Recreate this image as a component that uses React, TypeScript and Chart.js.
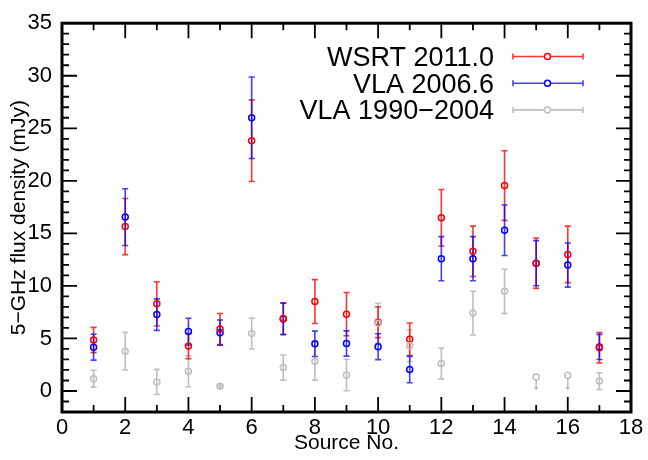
import React, { useEffect, useRef } from "react";
import { Chart, registerables } from "chart.js";

Chart.register(...registerables);

const sources = [1, 2, 3, 4, 5, 6, 7, 8, 9, 10, 11, 12, 13, 14, 15, 16, 17];
const wsrt = [4.85, 15.65, 8.29, 4.27, 5.89, 23.82, 6.9, 8.51, 7.31, 6.55, 4.92, 16.49, 13.29, 19.55, 12.16, 13.0, 4.12];
const wsrtErr = [1.2, 2.67, 2.1, 1.2, 1.48, 3.88, 1.5, 2.09, 2.06, 1.47, 1.55, 2.69, 2.4, 3.31, 2.4, 2.69, 1.45];
const vla = [4.17, 16.55, 7.27, 5.65, 5.55, 26.0, 6.85, 4.49, 4.52, 4.21, 2.04, 12.59, 12.59, 15.3, 12.16, 11.98, 4.19];
const vlaErr = [1.23, 2.7, 1.5, 1.27, 1.2, 3.88, 1.5, 1.21, 1.2, 1.23, 1.25, 2.1, 2.1, 2.4, 2.15, 2.1, 1.2];
const old = [1.17, 3.78, 0.86, 1.87, 0.44, 5.46, 2.23, 2.83, 1.52, 6.45, 4.3, 2.62, 7.41, 9.49, 1.33, 1.49, 0.94];
const oldErr = [0.8, 1.8, 1.2, 1.47, 0.12, 1.47, 1.2, 1.8, 1.5, 1.9, 1.5, 1.47, 2.08, 2.1, 0, 0, 0.8];
const oldUpperLimit = [false, false, false, false, false, false, false, false, false, false, false, false, false, false, true, true, false];
const seriesLabels = ["WSRT 2011.0", "VLA 2006.6", "VLA 1990\u22122004"];
const xTickValues = [0, 2, 4, 6, 8, 10, 12, 14, 16, 18];
const yTickValues = [0, 5, 10, 15, 20, 25, 30, 35];
const xTitle = "Source No.";
const yTitle = "5\u2212GHz flux density (mJy)";

const RED = "rgb(255,0,0)";
const BLUE = "rgb(0,0,255)";
const GRAY = "rgb(190,190,190)";
const RED_A = "rgba(255,0,0,0.8)";
const BLUE_A = "rgba(0,0,255,0.75)";
const GRAY_A = "rgba(170,170,170,0.75)";
const FONT = "'Liberation Sans', Arial, Helvetica, sans-serif";

export default function App() {
  const ref = useRef<HTMLCanvasElement | null>(null);

  useEffect(() => {
    document.body.style.margin = "0";
    const canvas = ref.current;
    if (!canvas) return;

    const errSets = [
      { vals: old, errs: oldErr, color: GRAY_A, ul: oldUpperLimit },
      { vals: wsrt, errs: wsrtErr, color: RED_A, ul: null as boolean[] | null },
      { vals: vla, errs: vlaErr, color: BLUE_A, ul: null as boolean[] | null },
    ];

    const errorBarPlugin = {
      id: "errbars",
      beforeDatasetsDraw(chart: any) {
        const ctx = chart.ctx;
        const xs = chart.scales.x;
        const ys = chart.scales.y;
        ctx.save();
        ctx.lineWidth = 1.6;
        for (const s of errSets) {
          ctx.strokeStyle = s.color;
          ctx.fillStyle = s.color;
          sources.forEach((src, i) => {
            const px = xs.getPixelForValue(src);
            if (s.ul && s.ul[i]) {
              const y0 = ys.getPixelForValue(s.vals[i]) + 3;
              const y1 = ys.getPixelForValue(0);
              ctx.beginPath();
              ctx.moveTo(px, y0);
              ctx.lineTo(px, y1 - 3);
              ctx.stroke();
              ctx.beginPath();
              ctx.moveTo(px - 2, y1 - 4);
              ctx.lineTo(px + 2, y1 - 4);
              ctx.lineTo(px, y1);
              ctx.closePath();
              ctx.fill();
              return;
            }
            const e = s.errs[i];
            if (!e) return;
            const top = ys.getPixelForValue(s.vals[i] + e);
            const bot = ys.getPixelForValue(s.vals[i] - e);
            ctx.beginPath();
            ctx.moveTo(px, top);
            ctx.lineTo(px, bot);
            ctx.moveTo(px - 3, top);
            ctx.lineTo(px + 3, top);
            ctx.moveTo(px - 3, bot);
            ctx.lineTo(px + 3, bot);
            ctx.stroke();
          });
        }
        ctx.restore();
      },
      afterDraw(chart: any) {
        const ctx = chart.ctx;
        const a = chart.chartArea;
        const xs = chart.scales.x;
        const ys = chart.scales.y;
        ctx.save();
        // ticks inward on all sides
        ctx.strokeStyle = "#000";
        ctx.lineWidth = 1.8;
        ctx.beginPath();
        for (let v = 0; v <= 18; v += 1) {
          const px = xs.getPixelForValue(v);
          const len = v % 2 === 0 ? 15 : 7;
          ctx.moveTo(px, a.bottom);
          ctx.lineTo(px, a.bottom - len);
          ctx.moveTo(px, a.top);
          ctx.lineTo(px, a.top + len);
        }
        for (let v = -2; v <= 35; v += 1) {
          const py = ys.getPixelForValue(v);
          const len = v % 5 === 0 ? 15 : 7;
          ctx.moveTo(a.left, py);
          ctx.lineTo(a.left + len, py);
          ctx.moveTo(a.right, py);
          ctx.lineTo(a.right - len, py);
        }
        ctx.stroke();
        // frame
        ctx.lineWidth = 3;
        ctx.strokeRect(a.left, a.top, a.right - a.left, a.bottom - a.top);

        // legend
        const rows = [
          { label: seriesLabels[0], color: RED, bar: RED_A },
          { label: seriesLabels[1], color: BLUE, bar: BLUE_A },
          { label: seriesLabels[2], color: GRAY, bar: GRAY_A },
        ];
        ctx.font = `27px ${FONT}`;
        ctx.textAlign = "right";
        ctx.textBaseline = "alphabetic";
        rows.forEach((r, i) => {
          const base = 66 + i * 26.7;
          const cy = base - 9.5;
          ctx.fillStyle = "#000";
          ctx.fillText(r.label, 494, base);
          ctx.strokeStyle = r.bar;
          ctx.lineWidth = 1.6;
          ctx.beginPath();
          ctx.moveTo(513, cy);
          ctx.lineTo(583, cy);
          ctx.moveTo(513, cy - 3);
          ctx.lineTo(513, cy + 3);
          ctx.moveTo(583, cy - 3);
          ctx.lineTo(583, cy + 3);
          ctx.stroke();
          ctx.fillStyle = "#fff";
          ctx.strokeStyle = r.color;
          ctx.lineWidth = 1.5;
          ctx.beginPath();
          ctx.arc(547.5, cy, 3, 0, Math.PI * 2);
          ctx.fill();
          ctx.stroke();
        });
        ctx.restore();
      },
    };

    const mk = (label: string, vals: number[], color: string) => ({
      label,
      data: sources.map((s, i) => ({ x: s, y: vals[i] })),
      borderColor: color,
      backgroundColor: "rgba(0,0,0,0)",
      pointRadius: 3,
      pointBorderWidth: 1.5,
      pointHoverRadius: 3,
      showLine: false,
    });

    const chart = new Chart(canvas, {
      type: "scatter",
      data: {
        datasets: [
          mk(seriesLabels[2], old, GRAY),
          mk(seriesLabels[0], wsrt, RED),
          mk(seriesLabels[1], vla, BLUE),
        ],
      },
      options: {
        animation: false,
        responsive: false,
        events: [],
        layout: { padding: { top: 10, right: 17, left: 0, bottom: 0 } },
        plugins: { legend: { display: false }, tooltip: { enabled: false } },
        scales: {
          x: {
            type: "linear",
            min: 0,
            max: 18,
            grid: { display: false, drawTicks: false },
            border: { display: false },
            afterBuildTicks: (s: any) => {
              s.ticks = xTickValues.map((v) => ({ value: v }));
            },
            ticks: {
              color: "#000",
              font: { family: FONT, size: 22 },
              padding: 3,
              maxRotation: 0,
              autoSkip: false,
            },
            title: {
              display: true,
              text: xTitle,
              color: "#000",
              font: { family: FONT, size: 21 },
              padding: { top: 0, bottom: 4 },
            },
            afterFit: (s: any) => {
              s.height = 48;
            },
          },
          y: {
            type: "linear",
            min: -2,
            max: 35,
            grid: { display: false, drawTicks: false },
            border: { display: false },
            afterBuildTicks: (s: any) => {
              s.ticks = yTickValues.map((v) => ({ value: v }));
            },
            ticks: {
              color: "#000",
              font: { family: FONT, size: 22 },
              padding: 10,
              autoSkip: false,
            },
            title: {
              display: true,
              text: yTitle,
              color: "#000",
              font: { family: FONT, size: 21 },
              padding: { top: 7, bottom: 0 },
            },
            afterFit: (s: any) => {
              s.width = 62;
            },
          },
        },
      },
      plugins: [errorBarPlugin],
    } as any);

    return () => chart.destroy();
  }, []);

  return (
    <canvas
      ref={ref}
      width={648}
      height={460}
      style={{ display: "block", width: 648, height: 460 }}
    />
  );
}
